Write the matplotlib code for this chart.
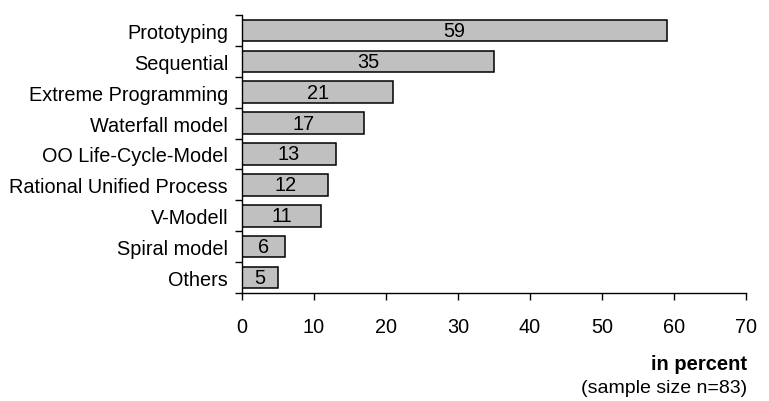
import numpy as np
import matplotlib.pyplot as plt

plt.rcParams['font.family'] = ['Liberation Sans', 'DejaVu Sans']

methods = ['Prototyping', 'Sequential', 'Extreme Programming', 'Waterfall model',
           'OO Life-Cycle-Model', 'Rational Unified Process', 'V-Modell',
           'Spiral model', 'Others']
shares = [59, 35, 21, 17, 13, 12, 11, 6, 5]
xticks = [0, 10, 20, 30, 40, 50, 60, 70]

fig = plt.figure(figsize=(7.69, 4.02), dpi=100)
ax = fig.add_axes([242 / 769, 108 / 402, 504 / 769, 278 / 402])

n = len(methods)
ypos = np.arange(n)[::-1]
ax.barh(ypos, shares, height=0.70, color='#c0c0c0', edgecolor='black', linewidth=1.1)

# value in the middle of each bar
for y, v in zip(ypos, shares):
    ax.text(v / 2, y, str(v), ha='center', va='center', fontsize=14.3)

ax.set_xlim(0, 70)
ax.set_ylim(-0.5, n - 0.5)
ax.set_xticks(xticks)
ax.set_xticklabels([str(t) for t in xticks], fontsize=14.3)
ax.set_yticks(ypos)
ax.set_yticklabels(methods, fontsize=14.3)
# tick marks sit between the categories
ax.set_yticks(np.arange(-0.5, n, 1.0), minor=True)
ax.tick_params(axis='y', which='major', length=0, pad=10)
ax.tick_params(axis='y', which='minor', length=5, width=1, direction='out')
ax.tick_params(axis='x', which='major', length=5, width=1, direction='out', pad=12)

for side in ['top', 'right']:
    ax.spines[side].set_visible(False)
ax.spines['left'].set_linewidth(1)
ax.spines['bottom'].set_linewidth(1)

fig.text(747 / 769, 1 - 365 / 402, 'in percent', ha='right', va='center',
         fontsize=14.5, fontweight='bold')
fig.text(747 / 769, 1 - 389 / 402, '(sample size n=83)', ha='right', va='center',
         fontsize=14)

fig.savefig('out.png', dpi=100)
